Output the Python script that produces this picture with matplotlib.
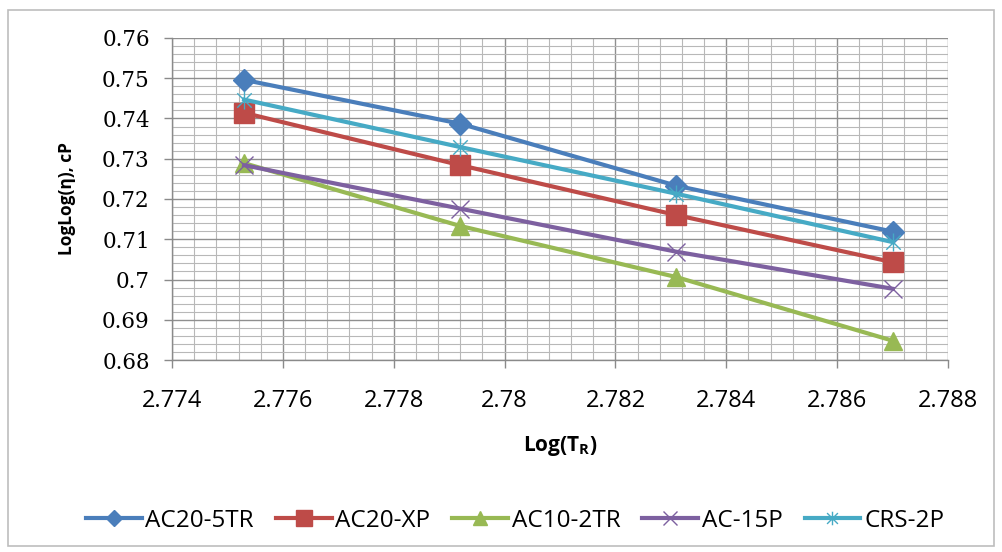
import matplotlib
matplotlib.use("Agg")
import matplotlib.pyplot as plt
from matplotlib.path import Path
from matplotlib.patches import Rectangle
from matplotlib.ticker import MultipleLocator, FuncFormatter

# ---- data ----
log_tr = [2.7753, 2.7792, 2.7831, 2.7870]
series_names = ["AC20-5TR", "AC20-XP", "AC10-2TR", "AC-15P", "CRS-2P"]
ac20_5tr = [0.7496, 0.7387, 0.7233, 0.7119]
ac20_xp = [0.7414, 0.7284, 0.7160, 0.7043]
ac10_2tr = [0.7289, 0.7133, 0.7006, 0.6848]
ac_15p = [0.7284, 0.7176, 0.7069, 0.6977]
crs_2p = [0.7447, 0.7329, 0.7213, 0.7093]
x_ticks = [2.774, 2.776, 2.778, 2.780, 2.782, 2.784, 2.786, 2.788]
y_ticks = [0.68, 0.69, 0.70, 0.71, 0.72, 0.73, 0.74, 0.75, 0.76]

colors = ["#4A7EBB", "#BE4B48", "#98B954", "#7D60A0", "#46AAC5"]

asterisk = Path([(-1, -1), (1, 1), (-1, 1), (1, -1), (0, -1.25), (0, 1.25)],
                [Path.MOVETO, Path.LINETO, Path.MOVETO, Path.LINETO, Path.MOVETO, Path.LINETO])

fig = plt.figure(figsize=(10.03, 5.52), dpi=100)
fig.patches.append(Rectangle((8 / 1003, 1 - 546 / 552), 986 / 1003, 536 / 552,
                             transform=fig.transFigure, fill=False,
                             edgecolor="#bdbdbd", lw=1.2))
ax = fig.add_axes([0.1715, 0.3478, 0.7737, 0.5834])

data = [ac20_5tr, ac20_xp, ac10_2tr, ac_15p, crs_2p]
styles = [
    dict(marker="D", markersize=11, markerfacecolor=colors[0], markeredgecolor=colors[0]),
    dict(marker="s", markersize=15, markerfacecolor=colors[1], markeredgecolor=colors[1]),
    dict(marker="^", markersize=13, markerfacecolor=colors[2], markeredgecolor=colors[2]),
    dict(marker="x", markersize=13, markeredgewidth=1.0, markeredgecolor=colors[3]),
    dict(marker=asterisk, markersize=13, markeredgewidth=1.0, markeredgecolor=colors[4],
         markerfacecolor="none"),
]
for name, vals, c, st in zip(series_names, data, colors, styles):
    ax.plot(log_tr, vals, color=c, lw=3.0, label=name, zorder=3, **st)

ax.set_xlim(2.774, 2.788)
ax.set_ylim(0.68, 0.76)
ax.set_xticks(x_ticks)
ax.set_yticks(y_ticks)
ax.xaxis.set_minor_locator(MultipleLocator(0.0004))
ax.yaxis.set_minor_locator(MultipleLocator(0.002))
ax.xaxis.set_major_formatter(FuncFormatter(lambda v, p: f"{v:.3f}".rstrip("0").rstrip(".")))
ax.yaxis.set_major_formatter(FuncFormatter(lambda v, p: f"{v:.2f}".rstrip("0").rstrip(".")))

ax.grid(which="major", color="#8f8f8f", lw=1.0)
ax.grid(which="minor", color="#b8b8b8", lw=0.8)
ax.set_axisbelow(True)
for s in ["top", "right"]:
    ax.spines[s].set_visible(False)
for s in ["left", "bottom"]:
    ax.spines[s].set_color("#8a8a8a")
    ax.spines[s].set_linewidth(1.0)
ax.tick_params(which="major", direction="out", length=6, color="#8a8a8a", width=1)
ax.tick_params(which="minor", length=0)
ax.tick_params(axis="x", labelsize=17, pad=15)
ax.tick_params(axis="y", labelsize=15.5, pad=10)
for t in ax.get_yticklabels():
    t.set_family("DejaVu Serif")
    t.set_fontweight("medium")
for t in ax.get_xticklabels():
    t.set_family("Open Sans")

ax.set_xlabel(r"Log(T$_\mathregular{R}$)", fontsize=15, fontweight="bold",
              family="Open Sans", labelpad=15)
ax.set_ylabel("LogLog(η), cP", fontsize=12.5, fontweight="bold",
              family="Open Sans", labelpad=19)

leg = ax.legend(loc="center", bbox_to_anchor=(515 / 1003, 1 - 521 / 552),
                bbox_transform=fig.transFigure, ncol=5, markerscale=0.75,
                frameon=False, prop={"family": "Open Sans", "size": 17.5},
                handlelength=2.3, columnspacing=0.9, handletextpad=0.15,
                borderpad=0, borderaxespad=0)

fig.savefig("out.png", dpi=100)
